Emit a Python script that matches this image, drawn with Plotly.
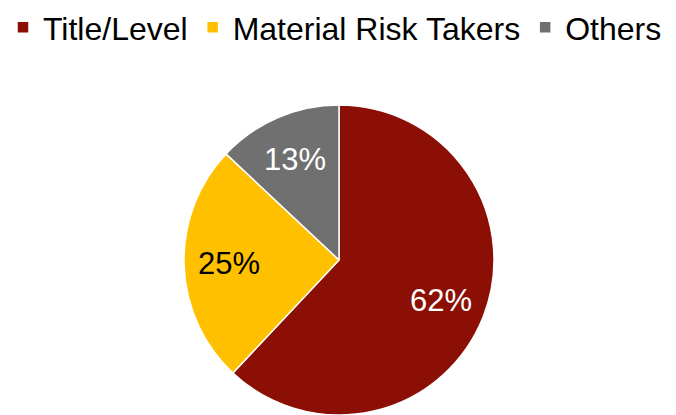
import math
import plotly.graph_objects as go

labels = ["Title/Level", "Material Risk Takers", "Others"]
values = [62, 25, 13]
colors = ["#8B0F04", "#FFC000", "#707070"]
text_colors = ["#FFFFFF", "#000000", "#FFFFFF"]

W, H = 676, 415
# pie domain (pixels)
px0, px1 = 184, 494
py0, py1 = 0, 310  # from bottom

fig = go.Figure(go.Pie(
    labels=labels,
    values=values,
    sort=False,
    direction="clockwise",
    rotation=0,
    marker=dict(colors=colors, line=dict(color="#FFFFFF", width=1.5)),
    textinfo="none",
    domain=dict(x=[px0 / W, px1 / W], y=[py0 / H, py1 / H]),
    hoverinfo="label+percent",
))

# data labels placed along each slice's mid-angle, like the source chart
total = sum(values)
cxp = (px0 + px1) / 2
cyp = (py0 + py1) / 2
R = (px1 - px0) / 2
cum = 0.0
for v, tc in zip(values, text_colors):
    mid = (cum + v / 2) / total * 2 * math.pi
    cum += v
    r = 0.71 * R
    x = (cxp + r * math.sin(mid)) / W
    y = (cyp + r * math.cos(mid)) / H
    fig.add_annotation(
        x=x, y=y, xref="paper", yref="paper",
        text=f"{round(v / total * 100)}%",
        showarrow=False,
        xanchor="center", yanchor="middle",
        font=dict(family="Liberation Sans, Arial", size=31, color=tc),
    )

fig.update_layout(
    width=W, height=H,
    margin=dict(l=0, r=0, t=0, b=0),
    paper_bgcolor="white",
    plot_bgcolor="white",
    font=dict(family="Liberation Sans, Arial", color="#000000"),
    showlegend=True,
    legend=dict(
        orientation="h",
        x=3 / W, xanchor="left",
        y=1.0, yanchor="top",
        font=dict(size=32, family="Liberation Sans, Arial"),
        itemwidth=30,
        traceorder="normal",
    ),
)

fig.write_html(
    "out.html",
    config={"displayModeBar": False},
    post_script="document.body.style.margin='0';document.body.style.padding='0';",
)
